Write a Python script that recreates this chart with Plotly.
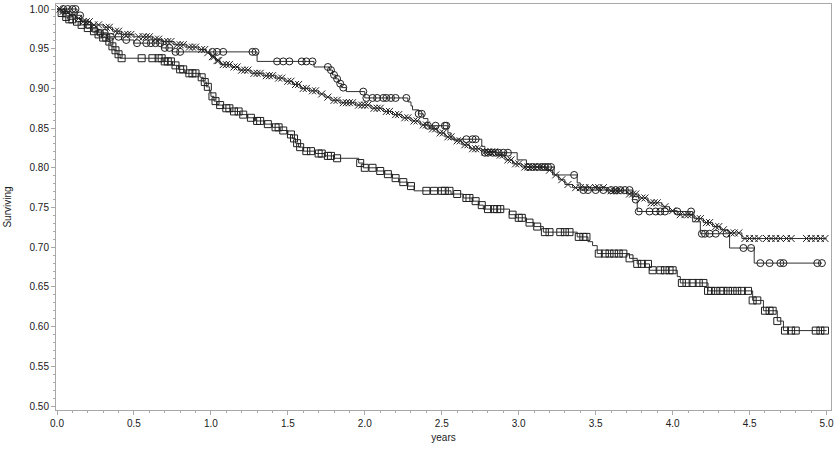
import numpy as np
import plotly.graph_objects as go

# ---------- Group with square censor marks ----------
sq_time = [0.00, 0.02, 0.04, 0.07, 0.12, 0.15, 0.19, 0.23, 0.26, 0.29, 0.33, 0.35, 0.37, 0.39, 0.41,
           0.69, 0.75, 0.79, 0.83, 0.93, 0.95, 0.97, 0.99, 1.00, 1.02, 1.04, 1.08, 1.13, 1.19, 1.24,
           1.29, 1.35, 1.40, 1.45, 1.50, 1.53, 1.55, 1.57, 1.60, 1.68, 1.74, 1.80, 1.96, 1.99, 2.08,
           2.13, 2.18, 2.22, 2.28, 2.32, 2.56, 2.64, 2.70, 2.74, 2.77, 2.94, 2.98, 3.05, 3.10, 3.16,
           3.38, 3.45, 3.48, 3.51, 3.72, 3.77, 3.85, 4.03, 4.05, 4.23, 4.52, 4.59, 4.68, 4.72]
sq_surv = [1.000, 0.995, 0.990, 0.987, 0.984, 0.980, 0.976, 0.972, 0.968, 0.964, 0.959, 0.953, 0.948, 0.943, 0.938,
           0.934, 0.929, 0.924, 0.919, 0.914, 0.908, 0.902, 0.896, 0.890, 0.884, 0.879, 0.875, 0.871, 0.867, 0.863,
           0.859, 0.855, 0.851, 0.847, 0.842, 0.837, 0.831, 0.826, 0.821, 0.818, 0.815, 0.812, 0.806, 0.800, 0.796,
           0.792, 0.787, 0.782, 0.777, 0.771, 0.767, 0.762, 0.758, 0.753, 0.748, 0.741, 0.737, 0.731, 0.726, 0.719,
           0.713, 0.707, 0.702, 0.692, 0.686, 0.679, 0.671, 0.663, 0.655, 0.645, 0.633, 0.620, 0.607, 0.595]
sq_end = 5.00
sq_cens = [0.03, 0.06, 0.08, 0.10, 0.13, 0.16, 0.20, 0.24, 0.27, 0.30, 0.32, 0.34, 0.36, 0.38, 0.40, 0.42,
           0.55, 0.62, 0.66, 0.68, 0.70, 0.72, 0.74, 0.77, 0.80, 0.82, 0.86, 0.88, 0.90, 0.94, 0.96, 0.98,
           1.01, 1.03, 1.06, 1.10, 1.12, 1.15, 1.18, 1.21, 1.26, 1.30, 1.32, 1.37, 1.42, 1.44, 1.47, 1.52,
           1.54, 1.56, 1.58, 1.62, 1.65, 1.70, 1.72, 1.76, 1.78, 1.82, 1.97, 2.00, 2.05, 2.10, 2.15, 2.20,
           2.25, 2.30, 2.40, 2.45, 2.50, 2.52, 2.55, 2.60, 2.66, 2.68, 2.72, 2.76, 2.80, 2.84, 2.86, 2.88,
           2.96, 3.00, 3.02, 3.07, 3.12, 3.17, 3.20, 3.27, 3.30, 3.33, 3.39, 3.42, 3.44, 3.52, 3.56, 3.59,
           3.62, 3.65, 3.68, 3.72, 3.77, 3.80, 3.84, 3.87, 3.92, 3.95, 3.98, 4.00, 4.06, 4.09, 4.13, 4.17,
           4.20, 4.23, 4.25, 4.28, 4.31, 4.33, 4.36, 4.39, 4.42, 4.45, 4.49, 4.52, 4.55, 4.60, 4.63, 4.65,
           4.68, 4.73, 4.77, 4.80, 4.93, 4.96, 4.99]

# ---------- Group with circle censor marks ----------
ci_time = [0.00, 0.13, 0.16, 0.19, 0.22, 0.27, 0.33, 0.42, 0.50, 0.68, 0.75, 1.30, 1.67, 1.77, 1.79,
           1.81, 1.83, 1.85, 1.88, 2.00, 2.28, 2.30, 2.31, 2.35, 2.38, 2.41, 2.54, 2.56, 2.76, 2.78,
           2.99, 3.05, 3.23, 3.38, 3.40, 3.74, 3.77, 4.13, 4.18, 4.37, 4.53]
ci_surv = [1.000, 0.992, 0.986, 0.980, 0.975, 0.970, 0.965, 0.961, 0.957, 0.951, 0.946, 0.934, 0.927, 0.923, 0.917,
           0.912, 0.906, 0.901, 0.896, 0.888, 0.883, 0.878, 0.873, 0.868, 0.862, 0.853, 0.844, 0.836, 0.827, 0.819,
           0.810, 0.801, 0.791, 0.781, 0.772, 0.760, 0.745, 0.732, 0.717, 0.699, 0.680]
ci_end = 4.97
ci_cens = [0.04, 0.07, 0.10, 0.12, 0.15, 0.20, 0.24, 0.28, 0.31, 0.35, 0.40, 0.45, 0.52, 0.58, 0.61, 0.64,
           0.67, 0.70, 0.73, 0.77, 0.80, 1.01, 1.04, 1.08, 1.27, 1.29, 1.43, 1.47, 1.51, 1.59, 1.62, 1.66,
           1.76, 1.78, 1.80, 1.82, 1.84, 1.86, 1.99, 2.01, 2.05, 2.08, 2.12, 2.14, 2.17, 2.20, 2.27, 2.35,
           2.37, 2.41, 2.46, 2.52, 2.53, 2.66, 2.70, 2.72, 2.78, 2.80, 2.83, 2.85, 2.87, 2.90, 2.93, 3.06,
           3.09, 3.12, 3.15, 3.17, 3.19, 3.21, 3.36, 3.42, 3.45, 3.50, 3.55, 3.60, 3.63, 3.66, 3.69, 3.72,
           3.76, 3.78, 3.85, 3.89, 3.92, 3.95, 4.03, 4.12, 4.19, 4.21, 4.24, 4.28, 4.35, 4.46, 4.51, 4.57,
           4.63, 4.70, 4.72, 4.94, 4.97]

# ---------- Group with x censor marks ----------
xx_time = [0.00, 0.03, 0.08, 0.12, 0.16, 0.22, 0.30, 0.36, 0.42, 0.50, 0.62, 0.68, 0.76, 0.84, 0.92,
           0.97, 1.00, 1.03, 1.06, 1.13, 1.18, 1.26, 1.34, 1.42, 1.48, 1.53, 1.58, 1.64, 1.70, 1.74,
           1.78, 1.84, 1.94, 2.04, 2.12, 2.18, 2.24, 2.30, 2.36, 2.42, 2.47, 2.52, 2.58, 2.63, 2.68,
           2.76, 2.86, 2.91, 2.96, 3.02, 3.18, 3.22, 3.26, 3.30, 3.35, 3.58, 3.70, 3.78, 3.84, 3.93,
           3.98, 4.03, 4.14, 4.20, 4.26, 4.31, 4.36, 4.45]
xx_surv = [1.000, 0.997, 0.993, 0.988, 0.984, 0.980, 0.977, 0.972, 0.968, 0.965, 0.962, 0.959, 0.955, 0.952, 0.949,
           0.945, 0.940, 0.935, 0.930, 0.927, 0.923, 0.919, 0.916, 0.913, 0.909, 0.905, 0.900, 0.897, 0.893, 0.889,
           0.885, 0.882, 0.879, 0.875, 0.871, 0.867, 0.863, 0.859, 0.854, 0.849, 0.844, 0.839, 0.834, 0.829, 0.824,
           0.820, 0.816, 0.810, 0.805, 0.801, 0.797, 0.791, 0.785, 0.779, 0.775, 0.771, 0.767, 0.762, 0.756, 0.751,
           0.746, 0.741, 0.736, 0.731, 0.726, 0.722, 0.718, 0.711]
xx_end = 5.00
xx_cens = [0.02, 0.04, 0.06, 0.09, 0.11, 0.14, 0.17, 0.19, 0.21, 0.24, 0.27, 0.32, 0.34, 0.38, 0.40, 0.44,
           0.46, 0.48, 0.53, 0.56, 0.58, 0.60, 0.64, 0.66, 0.70, 0.72, 0.74, 0.78, 0.80, 0.82, 0.86, 0.88,
           0.90, 0.94, 0.96, 0.98, 1.01, 1.02, 1.04, 1.05, 1.08, 1.10, 1.12, 1.15, 1.17, 1.20, 1.22, 1.24,
           1.28, 1.30, 1.32, 1.36, 1.38, 1.40, 1.44, 1.46, 1.50, 1.52, 1.55, 1.57, 1.60, 1.62, 1.66, 1.68,
           1.72, 1.76, 1.80, 1.82, 1.86, 1.88, 1.90, 1.92, 1.96, 1.98, 2.00, 2.02, 2.06, 2.08, 2.10, 2.14,
           2.16, 2.20, 2.22, 2.26, 2.28, 2.32, 2.34, 2.38, 2.40, 2.44, 2.46, 2.49, 2.51, 2.54, 2.56, 2.60,
           2.62, 2.65, 2.67, 2.70, 2.72, 2.74, 2.78, 2.80, 2.82, 2.84, 2.88, 2.90, 2.93, 2.95, 2.98, 3.00,
           3.04, 3.06, 3.08, 3.10, 3.12, 3.14, 3.16, 3.20, 3.24, 3.28, 3.32, 3.37, 3.40, 3.43, 3.46, 3.50,
           3.52, 3.55, 3.60, 3.62, 3.64, 3.66, 3.72, 3.74, 3.76, 3.80, 3.82, 3.86, 3.88, 3.90, 3.95, 4.00,
           4.05, 4.08, 4.10, 4.12, 4.16, 4.18, 4.22, 4.24, 4.28, 4.30, 4.33, 4.38, 4.40, 4.43, 4.47, 4.50,
           4.53, 4.56, 4.61, 4.64, 4.67, 4.70, 4.74, 4.77, 4.87, 4.90, 4.93, 4.96, 4.99]

x_tick_vals = [0.0, 0.5, 1.0, 1.5, 2.0, 2.5, 3.0, 3.5, 4.0, 4.5, 5.0]
x_tick_text = ["0.0", "0.5", "1.0", "1.5", "2.0", "2.5", "3.0", "3.5", "4.0", "4.5", "5.0"]
y_tick_vals = [0.50, 0.55, 0.60, 0.65, 0.70, 0.75, 0.80, 0.85, 0.90, 0.95, 1.00]
y_tick_text = ["0.50", "0.55", "0.60", "0.65", "0.70", "0.75", "0.80", "0.85", "0.90", "0.95", "1.00"]

FONT = "Liberation Sans, Arial, sans-serif"
TXT_COL = "#202020"
AX_COL = "#a8a8a8"
LINE_COL = "#303030"
MARK_COL = "#202020"

fig = go.Figure()


def add_group(times, surv, end, cens, symbol):
    t = list(times) + [end]
    s = list(surv) + [surv[-1]]
    fig.add_trace(go.Scatter(x=t, y=s, mode="lines", line=dict(shape="hv", color=LINE_COL, width=1),
                             hoverinfo="skip", showlegend=False))
    ta = np.asarray(times)
    sa = np.asarray(surv)
    idx = np.searchsorted(ta, np.asarray(cens), side="right") - 1
    fig.add_trace(go.Scatter(x=cens, y=sa[idx], mode="markers",
                             marker=dict(symbol=symbol, size=7, color=MARK_COL,
                                         line=dict(color=MARK_COL, width=1)),
                             showlegend=False))


add_group(sq_time, sq_surv, sq_end, sq_cens, "square-open")
add_group(xx_time, xx_surv, xx_end, xx_cens, "x-thin-open")
add_group(ci_time, ci_surv, ci_end, ci_cens, "circle-open")

axis_common = dict(showline=True, linecolor=AX_COL, linewidth=1, mirror=True, showgrid=False,
                   zeroline=False, ticks="outside", ticklen=4, tickcolor=AX_COL, automargin=False,
                   tickfont=dict(family=FONT, size=10, color=TXT_COL))

fig.update_xaxes(range=[-0.0065, 5.029], tickvals=x_tick_vals, ticktext=x_tick_text,
                 minor=dict(dtick=0.1, ticks="outside", ticklen=2, tickcolor=AX_COL),
                 title=dict(text="years", font=dict(family=FONT, size=10, color=TXT_COL), standoff=5),
                 **axis_common)
fig.update_yaxes(range=[0.495, 1.0063], tickvals=y_tick_vals, ticktext=y_tick_text,
                 minor=dict(dtick=0.01, ticks="outside", ticklen=2, tickcolor=AX_COL),
                 title=dict(text="Surviving", font=dict(family=FONT, size=10, color=TXT_COL), standoff=16),
                 **axis_common)

fig.update_layout(template="none", width=839, height=455, margin=dict(l=56, r=8, t=4, b=45),
                  paper_bgcolor="white", plot_bgcolor="white", showlegend=False)

# remove the default page margin so the figure sits at the window's top-left corner
fig.write_html("out.html", config={"displayModeBar": False},
               post_script="document.body.style.margin='0';document.body.style.overflow='hidden';")
